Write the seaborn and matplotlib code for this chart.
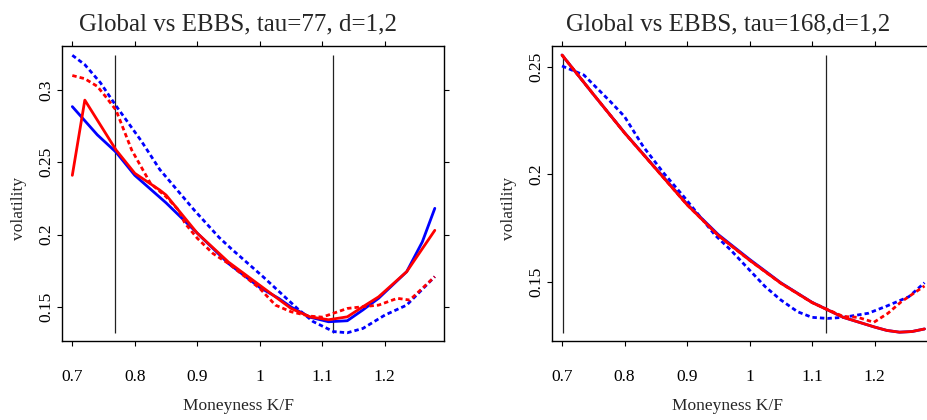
import matplotlib

matplotlib.use("Agg")
import matplotlib.pyplot as plt
import seaborn as sns

# --- left panel: tau=77 ---
l_blue_solid_x = [0.70, 0.74, 0.77, 0.80, 0.85, 0.90, 0.95, 1.00, 1.03, 1.05, 1.08, 1.11, 1.14, 1.165, 1.19, 1.235, 1.26, 1.28]
l_blue_solid_y = [0.2885, 0.269, 0.257, 0.241, 0.222, 0.201, 0.180, 0.1635, 0.156, 0.150, 0.143, 0.1398, 0.1405, 0.148, 0.156, 0.1744, 0.195, 0.2182]

l_blue_dash_x = [0.70, 0.72, 0.745, 0.77, 0.81, 0.84, 0.895, 0.935, 0.955, 1.005, 1.06, 1.085, 1.118, 1.14, 1.165, 1.20, 1.235, 1.28]
l_blue_dash_y = [0.324, 0.3175, 0.305, 0.289, 0.265, 0.245, 0.217, 0.198, 0.190, 0.171, 0.149, 0.140, 0.133, 0.1322, 0.1352, 0.1444, 0.1513, 0.171]

l_red_solid_x = [0.70, 0.72, 0.77, 0.80, 0.84, 0.85, 0.90, 0.95, 1.00, 1.05, 1.08, 1.11, 1.14, 1.165, 1.19, 1.235, 1.28]
l_red_solid_y = [0.241, 0.293, 0.2585, 0.2424, 0.2308, 0.2274, 0.201, 0.181, 0.165, 0.149, 0.1432, 0.1412, 0.1432, 0.1502, 0.157, 0.1744, 0.203]

l_red_dash_x = [0.70, 0.72, 0.74, 0.755, 0.77, 0.78, 0.795, 0.81, 0.825, 0.85, 0.87, 0.88, 0.90, 0.925, 0.95, 1.00, 1.025,
                1.05, 1.08, 1.10, 1.14, 1.165, 1.19, 1.22, 1.24, 1.28]
l_red_dash_y = [0.310, 0.3078, 0.3025, 0.2945, 0.286, 0.275, 0.2585, 0.247, 0.2355, 0.2262, 0.217, 0.208, 0.1975, 0.187,
                0.180, 0.1628, 0.1513, 0.1467, 0.1437, 0.143, 0.149, 0.1502, 0.1513, 0.156, 0.1548, 0.171]

l_vlines = [0.768, 1.1165]
l_vline_span = [0.1322, 0.3242]

# --- right panel: tau=168 ---
r_blue_solid_x = [0.70, 0.75, 0.80, 0.85, 0.90, 0.95, 1.00, 1.05, 1.10, 1.15, 1.20, 1.22, 1.24, 1.26, 1.28]
r_blue_solid_y = [0.2554, 0.2372, 0.2193, 0.2027, 0.1861, 0.1719, 0.1604, 0.1495, 0.1404, 0.1334, 0.1289, 0.1273, 0.1265, 0.1268, 0.1280]

r_blue_dash_x = [0.70, 0.735, 0.7775, 0.80, 0.83, 0.863, 0.895, 0.945, 0.97, 1.00, 1.025, 1.05, 1.077, 1.10, 1.125,
                 1.15, 1.19, 1.22, 1.255, 1.28]
r_blue_dash_y = [0.2503, 0.2461, 0.2337, 0.2268, 0.2128, 0.2004, 0.1895, 0.1716, 0.1647, 0.1554, 0.1477, 0.1415, 0.136,
                 0.1334, 0.1329, 0.1334, 0.1353, 0.1387, 0.143, 0.1495]

r_red_solid_x = [0.70, 0.75, 0.80, 0.85, 0.90, 0.95, 1.00, 1.05, 1.10, 1.15, 1.20, 1.22, 1.24, 1.26, 1.28]
r_red_solid_y = [0.2554, 0.2372, 0.2192, 0.2025, 0.1858, 0.1715, 0.1600, 0.1493, 0.1403, 0.1334, 0.1289, 0.1273, 0.1265, 0.1268, 0.1280]

r_red_dash_x = [0.70, 0.75, 0.80, 0.85, 0.90, 0.95, 1.00, 1.05, 1.10, 1.15, 1.1735, 1.199, 1.2215, 1.243, 1.28]
r_red_dash_y = [0.2554, 0.2372, 0.2192, 0.2025, 0.1858, 0.1715, 0.1600, 0.1493, 0.1403, 0.1338, 0.1334, 0.1311, 0.1353,
                0.1407, 0.148]

r_vlines = [0.7015, 1.1225]
r_vline_span = [0.1263, 0.2554]

x_ticks = [0.7, 0.8, 0.9, 1.0, 1.1, 1.2]
x_ticklabels = ["0.7", "0.8", "0.9", "1", "1.1", "1.2"]
l_y_ticks = [0.15, 0.2, 0.25, 0.3]
l_y_ticklabels = ["0.15", "0.2", "0.25", "0.3"]
r_y_ticks = [0.15, 0.2, 0.25]
r_y_ticklabels = ["0.15", "0.2", "0.25"]

titles = ["Global vs EBBS, tau=77, d=1,2", "Global vs EBBS, tau=168,d=1,2"]

BLUE = "#0000FF"
RED = "#FF0000"
DOT = (0, (1.6, 1.1))

sns.set_theme(style="white")
plt.rcParams["font.family"] = ["Liberation Serif", "DejaVu Serif"]

fig = plt.figure(figsize=(9.28, 4.2), dpi=100)
ax_l = fig.add_axes([62 / 928, 79 / 420, 382 / 928, 295 / 420])
ax_r = fig.add_axes([551.7 / 928, 79 / 420, 382 / 928, 295 / 420])


def draw_panel(ax, series, vlines, span, yticks, yticklabels, ylim, title):
    ax.vlines(vlines, span[0], span[1], color="#222222", lw=0.9)
    for xs, ys, color, ls in series:
        sns.lineplot(x=xs, y=ys, ax=ax, color=color, lw=2.0, linestyle=ls, estimator=None, sort=False)
    ax.set_xlim(0.6835, 1.2947)
    ax.set_ylim(*ylim)
    ax.set_xticks(x_ticks)
    ax.set_xticklabels(x_ticklabels)
    ax.set_yticks(yticks)
    ax.set_yticklabels(yticklabels, rotation=90, va="center")
    ax.tick_params(axis="both", which="both", direction="out", colors="black", labelsize=12.5,
                   top=True, right=True, bottom=True, left=True, length=3.5, width=0.8)
    ax.tick_params(axis="x", pad=17)
    ax.tick_params(axis="y", pad=2)
    for s in ax.spines.values():
        s.set_color("black")
        s.set_linewidth(1.0)
    ax.set_xlabel("Moneyness K/F", fontsize=12.5)
    ax.set_ylabel("volatility", fontsize=12.5)
    ax.xaxis.set_label_coords(0.4615, -0.222)
    ax.yaxis.set_label_coords(-0.113, 0.451)
    ax.yaxis.label.set_va("center")
    ax.xaxis.label.set_va("center")
    ax.text(0.461, 1.054, title, transform=ax.transAxes, ha="center", va="baseline", fontsize=18)
    ax.grid(False)


draw_panel(
    ax_l,
    [(l_blue_dash_x, l_blue_dash_y, BLUE, DOT),
     (l_blue_solid_x, l_blue_solid_y, BLUE, "-"),
     (l_red_dash_x, l_red_dash_y, RED, DOT),
     (l_red_solid_x, l_red_solid_y, RED, "-")],
    l_vlines, l_vline_span, l_y_ticks, l_y_ticklabels, (0.1265, 0.3304), titles[0],
)
draw_panel(
    ax_r,
    [(r_blue_dash_x, r_blue_dash_y, BLUE, DOT),
     (r_blue_solid_x, r_blue_solid_y, BLUE, "-"),
     (r_red_dash_x, r_red_dash_y, RED, DOT),
     (r_red_solid_x, r_red_solid_y, RED, "-")],
    r_vlines, r_vline_span, r_y_ticks, r_y_ticklabels, (0.1224, 0.2596), titles[1],
)

fig.savefig("out.png", dpi=100)
